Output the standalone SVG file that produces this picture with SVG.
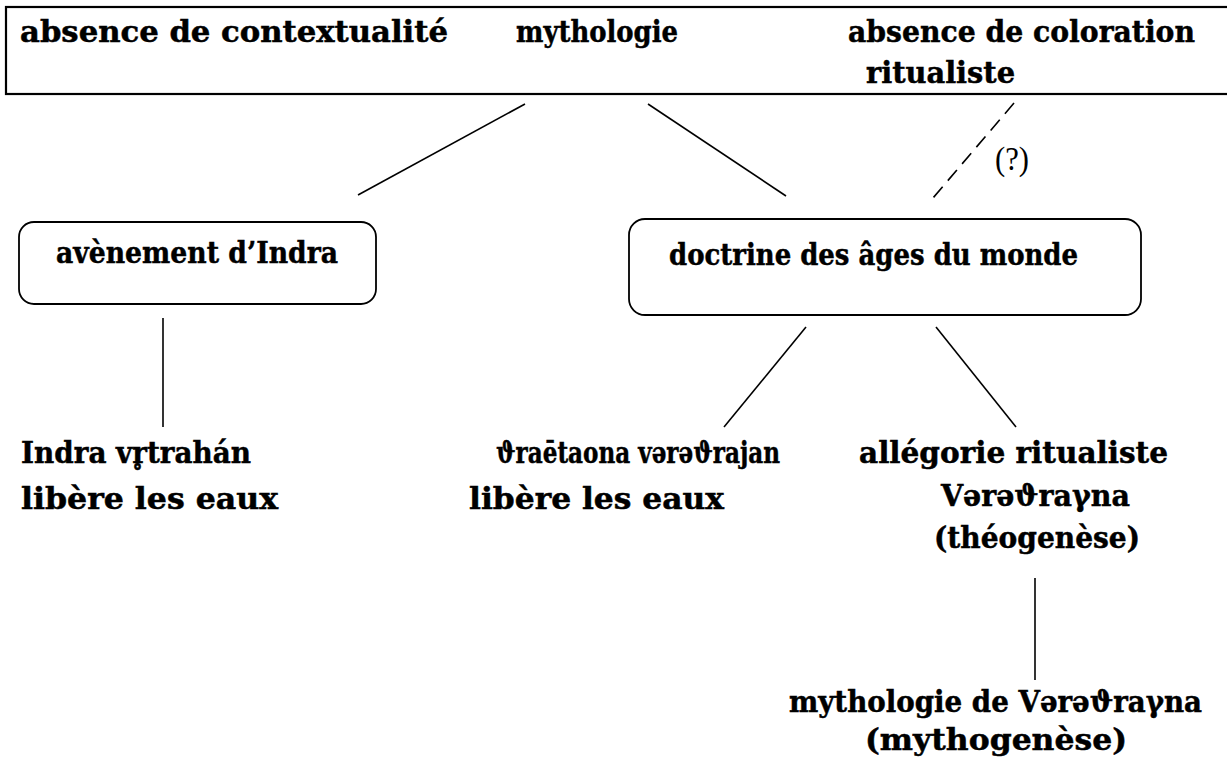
<svg xmlns="http://www.w3.org/2000/svg" width="1227" height="763" viewBox="0 0 1227 763">
<style>
.t{font-family:"DejaVu Serif","Liberation Serif",serif;font-weight:bold;font-size:30px;fill:#000;stroke:#000;stroke-width:0.5}
.r{font-family:"Liberation Serif","DejaVu Serif",serif;font-size:34px;fill:#000}
.box{fill:#fff;stroke:#000;stroke-width:1.8}
.ln{stroke:#000;stroke-width:1.6;fill:none}
</style>
<rect width="1227" height="763" fill="#fff"/>
<g id="top">
<rect x="6" y="7" width="1240" height="87" fill="none" stroke="#000" stroke-width="2.2"/>
<text class="t" x="20" y="42" textLength="428" lengthAdjust="spacingAndGlyphs">absence de contextualité</text>
<text class="t" x="516" y="42" textLength="162" lengthAdjust="spacingAndGlyphs">mythologie</text>
<text class="t" x="848" y="42" textLength="347" lengthAdjust="spacingAndGlyphs">absence de coloration</text>
<text class="t" x="866" y="83" textLength="149" lengthAdjust="spacingAndGlyphs">ritualiste</text>
</g>
<g id="connectors">
<line class="ln" x1="525" y1="104" x2="358" y2="195"/>
<line class="ln" x1="648" y1="104" x2="786" y2="196"/>
<line class="ln" x1="1014" y1="103" x2="933" y2="198" stroke-dasharray="14,8"/>
<line class="ln" x1="163" y1="318" x2="163" y2="427"/>
<line class="ln" x1="806" y1="327" x2="724" y2="427"/>
<line class="ln" x1="936" y1="327" x2="1016" y2="427"/>
<line class="ln" x1="1035" y1="578" x2="1035" y2="680"/>
<text class="r" x="995" y="170" textLength="34" lengthAdjust="spacingAndGlyphs">(?)</text>
</g>
<g id="avenement">
<rect class="box" x="19" y="222" width="357" height="82" rx="15"/>
<text class="t" x="56" y="263" textLength="282" lengthAdjust="spacingAndGlyphs">avènement d’Indra</text>
</g>
<g id="doctrine">
<rect class="box" x="629" y="219" width="512" height="96" rx="16"/>
<text class="t" x="669" y="265" textLength="409" lengthAdjust="spacingAndGlyphs">doctrine des âges du monde</text>
</g>
<g id="indra">
<text class="t" x="21" y="463" textLength="230" lengthAdjust="spacingAndGlyphs">Indra vr̥trahán</text>
<text class="t" x="21" y="509" textLength="257" lengthAdjust="spacingAndGlyphs">libère les eaux</text>
</g>
<g id="thraetaona">
<text class="t" x="496" y="463" textLength="284" lengthAdjust="spacingAndGlyphs">ϑraētaona vərəϑrajan</text>
<text class="t" x="469" y="509" textLength="255" lengthAdjust="spacingAndGlyphs">libère les eaux</text>
</g>
<g id="allegorie">
<text class="t" x="859" y="463" textLength="309" lengthAdjust="spacingAndGlyphs">allégorie ritualiste</text>
<text class="t" x="941" y="506" textLength="189" lengthAdjust="spacingAndGlyphs">Vərəϑraγna</text>
<text class="t" x="934" y="548" textLength="206" lengthAdjust="spacingAndGlyphs">(théogenèse)</text>
</g>
<g id="mythologie-v">
<text class="t" x="995.5" y="712" text-anchor="middle" style="font-size:29px" textLength="413" lengthAdjust="spacingAndGlyphs">mythologie de Vərəϑraγna</text>
<text class="t" x="865" y="750" textLength="262" lengthAdjust="spacingAndGlyphs">(mythogenèse)</text>
</g>
</svg>
